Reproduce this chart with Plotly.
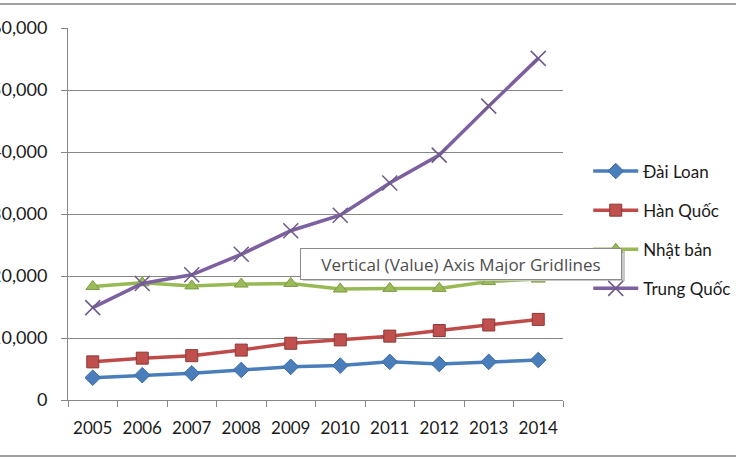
import plotly.graph_objects as go

years = ["2005", "2006", "2007", "2008", "2009", "2010", "2011", "2012", "2013", "2014"]
dai_loan = [3600, 4000, 4300, 4850, 5350, 5550, 6150, 5800, 6150, 6450]
han_quoc = [6150, 6750, 7150, 8050, 9150, 9700, 10300, 11200, 12100, 13000]
nhat_ban = [18300, 18900, 18400, 18700, 18800, 17900, 18000, 18000, 19100, 19500]
trung_quoc = [14900, 18800, 20200, 23500, 27300, 29800, 35000, 39500, 47400, 55100]
y_ticks = [0, 10000, 20000, 30000, 40000, 50000, 60000]
y_tick_labels = ["0", "10,000", "20,000", "30,000", "40,000", "50,000", "60,000"]

W, H = 736, 460
L, T = 68, 28
pw, ph = 495, 372
R, B = W - L - pw, H - T - ph

font_family = "Lato, 'Open Sans', sans-serif"

def px_x(x):
    return (x - 68) / pw

def px_y(y):
    return (400 - y) / ph

fig = go.Figure()
series = [
    ("Đài Loan", dai_loan, "#4a7ebb", dict(symbol="diamond", size=12, color="#4a7ebb", line=dict(color="#3d6ba3", width=1))),
    ("Hàn Quốc", han_quoc, "#be4b48", dict(symbol="square", size=12, color="#c0504d", line=dict(color="#8c3836", width=1))),
    ("Nhật bản", nhat_ban, "#98b954", dict(symbol="triangle-up", size=12, color="#9bbb59", line=dict(color="#7e9a46", width=1))),
    ("Trung Quốc", trung_quoc, "#7d60a0", dict(symbol="x-thin-open", size=15, color="#6e5a8a", line=dict(color="#6e5a8a", width=1.5))),
]
for i, (name, vals, col, mk) in enumerate(series):
    fig.add_trace(go.Scatter(
        x=years, y=vals, name=name, mode="lines+markers",
        line=dict(color=col, width=3.5), marker=mk,
        legendgroup=f"g{i}",
    ))

fig.update_layout(
    width=W, height=H,
    margin=dict(l=L, r=R, t=T, b=B, autoexpand=False),
    paper_bgcolor="white", plot_bgcolor="white",
    font=dict(family=font_family, size=16, color="#1a1a1a"),
    showlegend=True,
    legend=dict(
        x=1.051, y=px_y(230), xanchor="left", yanchor="middle",
        font=dict(size=17, color="#1a1a1a"),
        tracegroupgap=14, itemwidth=45, bgcolor="rgba(0,0,0,0)",
    ),
    xaxis=dict(
        type="category", range=[-0.5, 9.5], tickson="boundaries", ticks="outside", ticklen=6,
        tickcolor="#868686", showline=True, linecolor="#868686", linewidth=1,
        showgrid=False, tickfont=dict(size=17), ticklabelstandoff=13,
        tickangle=0, fixedrange=True,
    ),
    yaxis=dict(
        range=[0, 60000], tickvals=y_ticks, ticktext=y_tick_labels,
        ticks="outside", ticklen=6, tickcolor="#868686",
        showline=True, linecolor="#868686", linewidth=1,
        showgrid=True, gridcolor="#868686", gridwidth=1,
        zeroline=False, tickfont=dict(size=18), ticklabelstandoff=10,
        automargin=False, fixedrange=True,
    ),
    shapes=[
        dict(type="line", xref="paper", yref="paper", x0=-0.3, x1=1.5,
             y0=px_y(4), y1=px_y(4), line=dict(color="#a0a0a0", width=2)),
        dict(type="line", xref="paper", yref="paper", x0=-0.3, x1=1.5,
             y0=px_y(456), y1=px_y(456), line=dict(color="#a0a0a0", width=2)),
        dict(type="rect", xref="paper", yref="paper", layer="above",
             x0=px_x(303), x1=px_x(625), y0=px_y(251), y1=px_y(281),
             fillcolor="#c8c8c8", line=dict(width=0)),
    ],
    annotations=[
        dict(text="Vertical (Value) Axis Major Gridlines", xref="paper", yref="paper",
             x=px_x(300), y=px_y(248), xanchor="left", yanchor="top",
             width=310, height=20, align="center", valign="middle",
             showarrow=False, bgcolor="white", bordercolor="#8a8a8a", borderwidth=1,
             borderpad=5, font=dict(size=17, color="#4d4d4d", family="'Open Sans', sans-serif")),
    ],
)

fig.write_html(
    "out.html",
    config={"displayModeBar": False},
    post_script="document.body.style.margin='0';document.body.style.overflow='hidden';",
)
